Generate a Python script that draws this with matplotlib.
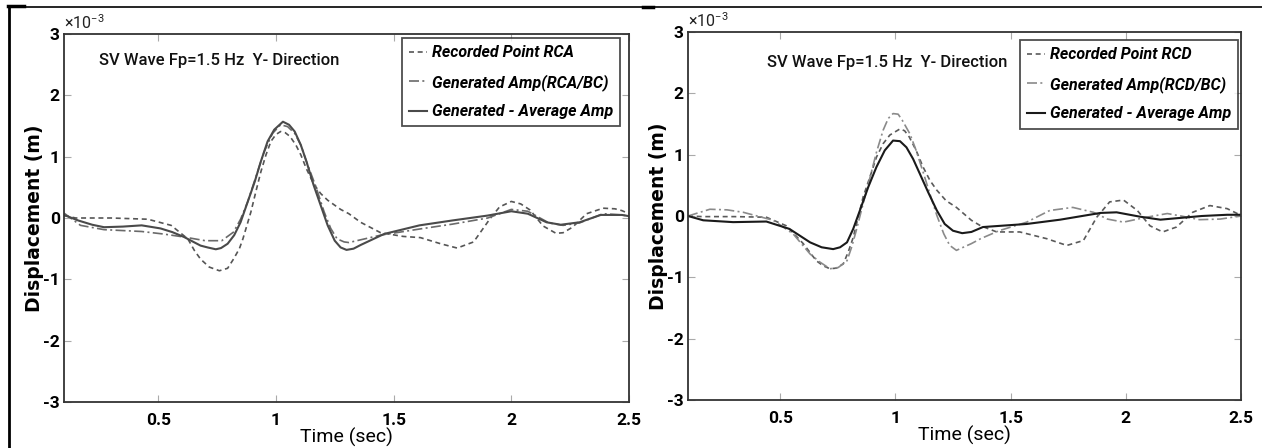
import matplotlib
matplotlib.use("Agg")
import matplotlib.pyplot as plt
from matplotlib.lines import Line2D
from matplotlib.ticker import FuncFormatter, FixedLocator
import numpy as np

plt.rcParams['axes.unicode_minus'] = False
plt.rcParams['mathtext.fontset'] = 'custom'
plt.rcParams['mathtext.rm'] = 'Roboto'
NARROW = ['Roboto', 'DejaVu Sans']

# ---------------- data (displacement in units of 1e-3 m) ----------------
# Left panel (RCA)
rca_rec_t = [0.10, 0.15, 0.30, 0.456, 0.555, 0.626, 0.654, 0.68, 0.717, 0.76, 0.795, 0.82, 0.845, 0.86, 0.877,
             0.894, 0.915, 0.936, 0.958, 0.979, 1.00, 1.02, 1.04, 1.06, 1.085, 1.106, 1.13, 1.16, 1.19, 1.22,
             1.275, 1.31, 1.36, 1.445, 1.54, 1.614, 1.70, 1.77, 1.84, 1.91, 1.95, 2.00, 2.04, 2.08, 2.135,
             2.19, 2.22, 2.26, 2.32, 2.39, 2.44, 2.47, 2.50]
rca_rec_d = [0.04, 0.00, 0.00, -0.02, -0.12, -0.34, -0.53, -0.67, -0.80, -0.86, -0.82, -0.67, -0.50, -0.34, -0.12,
             0.10, 0.43, 0.75, 1.03, 1.25, 1.36, 1.41, 1.39, 1.33, 1.19, 1.03, 0.80, 0.56, 0.40, 0.29,
             0.14, 0.07, -0.07, -0.24, -0.30, -0.32, -0.42, -0.49, -0.39, -0.01, 0.18, 0.27, 0.23, 0.13, -0.13,
             -0.25, -0.24, -0.15, 0.07, 0.16, 0.15, 0.12, 0.07]
rca_gen_t = [0.10, 0.17, 0.27, 0.43, 0.52, 0.61, 0.70, 0.77, 0.82, 0.85, 0.88, 0.915, 0.95, 0.986, 1.02, 1.05,
             1.08, 1.106, 1.13, 1.17, 1.205, 1.233, 1.26, 1.29, 1.31, 1.445, 1.61, 1.75, 1.90, 2.00, 2.07,
             2.16, 2.22, 2.29, 2.39, 2.47, 2.50]
rca_gen_d = [0.08, -0.12, -0.19, -0.22, -0.26, -0.31, -0.37, -0.37, -0.23, -0.02, 0.26, 0.67, 1.08, 1.38, 1.52, 1.49,
             1.38, 1.19, 0.92, 0.51, 0.10, -0.17, -0.34, -0.39, -0.40, -0.28, -0.18, -0.10, 0.00, 0.14, 0.11,
             -0.08, -0.12, -0.08, 0.07, 0.05, 0.03]
rca_avg_t = [0.10, 0.16, 0.22, 0.27, 0.35, 0.43, 0.51, 0.56, 0.61, 0.68, 0.71, 0.745, 0.767, 0.795, 0.823, 0.85,
             0.88, 0.91, 0.936, 0.965, 0.993, 1.03, 1.056, 1.08, 1.106, 1.13, 1.16, 1.19, 1.22, 1.25, 1.275,
             1.30, 1.33, 1.36, 1.46, 1.61, 1.75, 1.90, 2.00, 2.07, 2.15, 2.21, 2.29, 2.38, 2.47, 2.50]
rca_avg_d = [0.05, -0.04, -0.11, -0.15, -0.14, -0.12, -0.17, -0.23, -0.31, -0.45, -0.48, -0.51, -0.49, -0.42, -0.28, -0.07,
             0.26, 0.59, 0.92, 1.25, 1.44, 1.57, 1.52, 1.41, 1.19, 0.92, 0.54, 0.21, -0.12, -0.37, -0.48,
             -0.52, -0.50, -0.44, -0.26, -0.12, -0.04, 0.04, 0.11, 0.07, -0.07, -0.11, -0.07, 0.05, 0.05, 0.03]

# Right panel (RCD)
rcd_rec_t = [0.10, 0.165, 0.30, 0.44, 0.527, 0.60, 0.657, 0.686, 0.716, 0.744, 0.774, 0.795, 0.817, 0.86, 0.889,
             0.918, 0.947, 0.976, 1.02, 1.04, 1.06, 1.09, 1.12, 1.15, 1.18, 1.22, 1.265, 1.33, 1.37, 1.44,
             1.54, 1.657, 1.744, 1.816, 1.874, 1.93, 1.99, 2.05, 2.105, 2.16, 2.22, 2.29, 2.365, 2.44, 2.50]
rcd_rec_d = [0.00, -0.01, -0.01, -0.02, -0.16, -0.45, -0.73, -0.81, -0.86, -0.85, -0.78, -0.59, -0.35, 0.31, 0.63,
             0.96, 1.18, 1.32, 1.42, 1.39, 1.29, 1.07, 0.80, 0.58, 0.42, 0.25, 0.14, -0.07, -0.16, -0.26,
             -0.26, -0.37, -0.48, -0.40, -0.02, 0.23, 0.26, 0.09, -0.16, -0.26, -0.18, 0.06, 0.17, 0.12, 0.01]
rcd_gen_t = [0.10, 0.195, 0.27, 0.34, 0.47, 0.556, 0.63, 0.672, 0.716, 0.752, 0.79, 0.81, 0.83, 0.86, 0.89, 0.918,
             0.947, 0.969, 0.99, 1.012, 1.03, 1.063, 1.09, 1.12, 1.15, 1.18, 1.21, 1.236, 1.265, 1.33, 1.37,
             1.45, 1.57, 1.67, 1.77, 1.86, 1.92, 1.99, 2.09, 2.18, 2.24, 2.32, 2.41, 2.50]
rcd_gen_d = [0.00, 0.11, 0.10, 0.06, -0.07, -0.29, -0.62, -0.75, -0.86, -0.84, -0.73, -0.51, -0.24, 0.20, 0.63, 1.04,
             1.40, 1.59, 1.67, 1.66, 1.56, 1.34, 1.07, 0.72, 0.36, 0.01, -0.29, -0.48, -0.56, -0.45, -0.37,
             -0.24, -0.10, 0.09, 0.14, 0.06, -0.05, -0.10, -0.02, 0.04, 0.00, -0.06, -0.05, 0.00]
rcd_avg_t = [0.10, 0.166, 0.296, 0.44, 0.54, 0.63, 0.68, 0.73, 0.76, 0.79, 0.817, 0.846, 0.882, 0.918, 0.954, 0.99,
             1.02, 1.048, 1.077, 1.106, 1.142, 1.18, 1.214, 1.25, 1.29, 1.33, 1.38, 1.57, 1.715, 1.89, 1.96,
             2.06, 2.15, 2.24, 2.33, 2.44, 2.50]
rcd_avg_d = [0.00, -0.07, -0.10, -0.09, -0.21, -0.43, -0.51, -0.54, -0.51, -0.43, -0.21, 0.09, 0.47, 0.80, 1.07, 1.23,
             1.22, 1.12, 0.93, 0.69, 0.39, 0.09, -0.13, -0.24, -0.28, -0.26, -0.18, -0.13, -0.06, 0.05, 0.06,
             -0.01, -0.06, -0.03, 0.00, 0.02, 0.02]

xticks = [0.5, 1, 1.5, 2, 2.5]
yticks = [-3, -2, -1, 0, 1, 2, 3]
title_text = "SV Wave Fp=1.5 Hz  Y- Direction"
labels_left = ["Recorded Point RCA", "Generated Amp(RCA/BC)", "Generated - Average Amp"]
labels_right = ["Recorded Point RCD", "Generated Amp(RCD/BC)", "Generated - Average Amp"]

SCALE = 1e-3

fig = plt.figure(figsize=(12.62, 4.48), dpi=100)
ax1 = fig.add_axes([64/1262, 1-402/448, (629-64)/1262, (402-34)/448])
ax2 = fig.add_axes([688/1262, 1-400/448, (1241-688)/1262, (400-32)/448])


def style_axes(ax, series, labels, colors, title_xy, leg_anchor, ylab_x):
    styles = [dict(ls=(0, (3, 2.2)), lw=1.2), dict(ls=(0, (6, 2, 1.2, 2)), lw=1.2), dict(ls='-', lw=1.5)]
    handles = []
    for (t, d), lab, c, st in zip(series, labels, colors, styles):
        h, = ax.plot(t, np.array(d) * SCALE, color=c, label=lab, **st)
        handles.append(h)
    ax.set_xlim(0.1, 2.5)
    ax.set_ylim(-3 * SCALE, 3 * SCALE)
    ax.xaxis.set_major_locator(FixedLocator(xticks))
    ax.xaxis.set_major_formatter(FuncFormatter(lambda v, p: f"{v:g}"))
    ax.yaxis.set_major_locator(FixedLocator([v * SCALE for v in yticks]))
    ax.yaxis.set_major_formatter(FuncFormatter(lambda v, p: f"{round(v / SCALE):d}"))
    ax.tick_params(direction='in', length=5, width=0.8, color='#aaaaaa', top=True, right=True,
                   labelsize=12.5)
    ax.tick_params(axis='x', pad=8)
    ax.tick_params(axis='y', pad=3)
    for lab in ax.get_xticklabels() + ax.get_yticklabels():
        lab.set_family(NARROW)
        lab.set_fontweight('bold')
    ax.text(0.0, 1.006, r'$\times10^{-3}$', transform=ax.transAxes, family=NARROW, fontsize=11.5,
            ha='left', va='bottom', color='#222222')
    for s in ax.spines.values():
        s.set_color('#333333')
        s.set_linewidth(1.3)
    ax.set_xlabel("Time (sec)", family=NARROW, fontsize=14, labelpad=0)
    ax.set_ylabel("Displacement (m)", family='DejaVu Sans', fontweight='bold', fontsize=13.5)
    ax.yaxis.set_label_coords(ylab_x, 0.5)
    ax.text(title_xy[0], title_xy[1], title_text, transform=ax.transAxes, family=NARROW,
            fontsize=12, fontweight='medium', ha='left', va='center', color='#111111')
    leg = ax.legend(handles, labels, loc='upper right', bbox_to_anchor=leg_anchor,
                    prop=dict(family=NARROW, style='italic', weight='bold', size=11.5),
                    frameon=True, fancybox=False, edgecolor='#222222', handlelength=1.1,
                    handletextpad=0.3, borderpad=0.45, labelspacing=0.85, borderaxespad=0)
    leg.get_frame().set_linewidth(1.3)


style_axes(ax1, [(rca_rec_t, rca_rec_d), (rca_gen_t, rca_gen_d), (rca_avg_t, rca_avg_d)], labels_left,
           ['#555555', '#6a6a6a', '#4a4a4a'], (0.062, 0.927), (0.984, 0.989), -0.036)
style_axes(ax2, [(rcd_rec_t, rcd_rec_d), (rcd_gen_t, rcd_gen_d), (rcd_avg_t, rcd_avg_d)], labels_right,
           ['#5a5a5a', '#8a8a8a', '#1a1a1a'], (0.143, 0.916), (0.995, 0.978), -0.036)

# page border lines around the composite
fig.add_artist(Line2D([8/1262, 1.0], [1-7/448, 1-7/448], transform=fig.transFigure, color='black', lw=1.2))
fig.add_artist(Line2D([9/1262, 9/1262], [0, 1-7/448], transform=fig.transFigure, color='black', lw=2))
fig.add_artist(Line2D([8/1262, 24/1262], [1-6/448, 1-6/448], transform=fig.transFigure, color='black', lw=2.5))
fig.add_artist(Line2D([643/1262, 653/1262], [1-7/448, 1-7/448], transform=fig.transFigure, color='black', lw=2.5))

fig.savefig("out.png", dpi=100)
